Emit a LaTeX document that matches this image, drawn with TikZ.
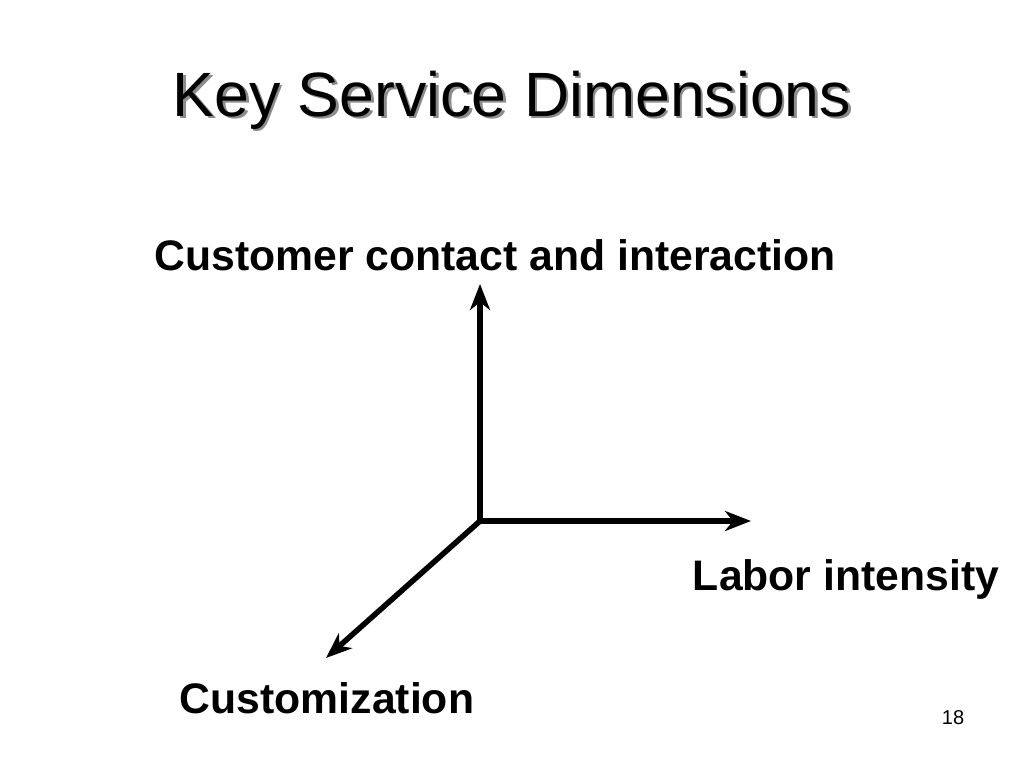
\documentclass[tikz,border=0pt]{standalone}
\usepackage{fontspec}
\setmainfont{Liberation Sans}
\usetikzlibrary{arrows.meta}
\begin{document}
\begin{tikzpicture}[x=1pt,y=-1pt,
  axis/.style={line width=5.5pt,-{Stealth[length=26pt,width=20pt,inset=8pt]}},
  lbl/.style={font=\fontsize{42.7}{48}\selectfont\bfseries,inner sep=0pt},
  ttl/.style={font=\fontsize{62.6}{70}\selectfont,inner sep=0pt}]
\useasboundingbox[fill=white] (0,0) rectangle (1024,768);
\node[ttl,text=black!45] (tshadow) at (514.5,102.5) {Key Service Dimensions};
\node[ttl] (title) at (512,100) {Key Service Dimensions};
\coordinate (o) at (480,521);
\coordinate (up) at (480,284);
\coordinate (rt) at (751,521);
\coordinate (dl) at (326,658);
\draw[axis] (o) -- (up);
\draw[axis] (o) -- (rt);
\draw[axis] (o) -- (dl);
\node[lbl] (cc) at (495,255) {Customer contact and interaction};
\node[lbl] (li) at (846,579) {Labor intensity};
\node[lbl] (cu) at (327,698) {Customization};
\node[font=\fontsize{20}{24}\selectfont,inner sep=0pt] (pg) at (953,718) {18};
\end{tikzpicture}
\end{document}
